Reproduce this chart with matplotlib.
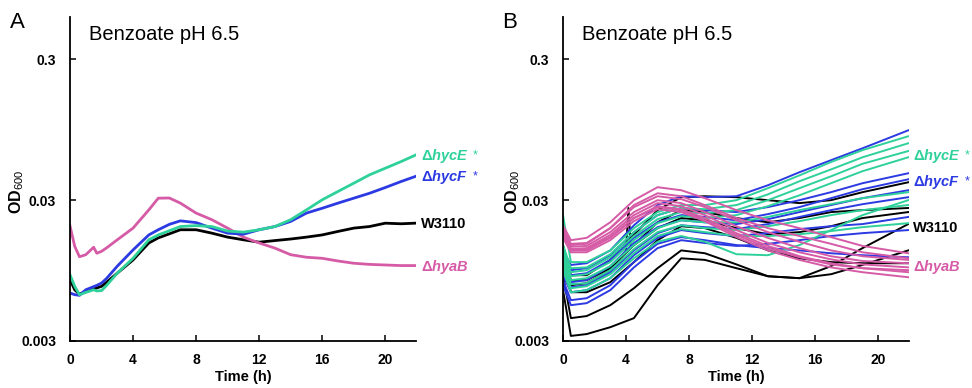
import matplotlib
matplotlib.use('Agg')
import matplotlib.pyplot as plt

plt.rcParams['font.family'] = ['Liberation Sans', 'DejaVu Sans']
plt.rcParams['mathtext.fontset'] = 'custom'
plt.rcParams['mathtext.rm'] = 'Liberation Sans'
plt.rcParams['mathtext.bf'] = 'Liberation Sans:bold'
plt.rcParams['mathtext.it'] = 'Liberation Sans:italic:bold'

GREEN = '#2fd19a'
BLUE = '#2c3ae2'
PINK = '#d65ba6'
BLACK = '#000000'

# ---- panel A: mean curves (OD600 vs time, h)
t_a = [0, 0.3, 0.6, 1.0, 1.5, 1.7, 2, 2.3, 3, 4, 5, 5.6, 6.3, 7, 8, 9, 10, 11,
       12, 13, 14, 15, 16, 17, 18, 19, 20, 21, 21.9]
a_hyaB = [0.0197, 0.0141, 0.0119, 0.0123, 0.0139, 0.0126, 0.0130, 0.0137, 0.0157,
          0.0190, 0.0256, 0.0310, 0.0311, 0.0286, 0.0243, 0.0218, 0.0190, 0.0164,
          0.0149, 0.0137, 0.0123, 0.0118, 0.0116, 0.0111, 0.0107, 0.0105, 0.0104,
          0.0103, 0.0103]
a_hycF = [0.00657, 0.00640, 0.00633, 0.00693, 0.00730, 0.00745, 0.00774, 0.00830,
          0.0102, 0.0133, 0.0170, 0.0185, 0.0202, 0.0214, 0.0208, 0.0190, 0.0175,
          0.0172, 0.0185, 0.0195, 0.0212, 0.0243, 0.0263, 0.0286, 0.0310, 0.0336,
          0.0369, 0.0407, 0.0442]
a_hycE = [0.00886, 0.00733, 0.00639, 0.00664, 0.00693, 0.00680, 0.00684, 0.00740,
          0.00910, 0.0116, 0.0157, 0.0170, 0.0182, 0.0195, 0.0198, 0.0195, 0.0181,
          0.0178, 0.0185, 0.0195, 0.0218, 0.0256, 0.0302, 0.0346, 0.0396, 0.0454,
          0.0506, 0.0564, 0.0626]
a_w3110 = [0.00817, 0.00693, 0.00645, 0.00675, 0.00700, 0.00715, 0.00733, 0.00780,
           0.00910, 0.0113, 0.0149, 0.0162, 0.0173, 0.0185, 0.0185, 0.0175, 0.0164,
           0.0157, 0.0151, 0.0155, 0.0159, 0.0164, 0.0170, 0.0180, 0.0190, 0.0195,
           0.0206, 0.0204, 0.0206]

# ---- panel B: individual replicates
t_b = [0, 0.5, 1.5, 3, 4.5, 6, 7.5, 9, 11, 13, 15, 17, 19, 21.9]
b_hyaB = [
    [0.0199, 0.0156, 0.0162, 0.0209, 0.0300, 0.0371, 0.0353, 0.0310, 0.0255, 0.0216, 0.0190, 0.0164, 0.0142, 0.0126],
    [0.0184, 0.0144, 0.0147, 0.0190, 0.0277, 0.0336, 0.0320, 0.0277, 0.0224, 0.0190, 0.0167, 0.0147, 0.0128, 0.0116],
    [0.0190, 0.0147, 0.0149, 0.0190, 0.0268, 0.0320, 0.0305, 0.0268, 0.0216, 0.0178, 0.0152, 0.0132, 0.0120, 0.0113],
    [0.0178, 0.0140, 0.0142, 0.0178, 0.0247, 0.0300, 0.0286, 0.0247, 0.0196, 0.0162, 0.0137, 0.0120, 0.0111, 0.0107],
    [0.0172, 0.0135, 0.0137, 0.0170, 0.0235, 0.0286, 0.0272, 0.0235, 0.0184, 0.0149, 0.0128, 0.0114, 0.0105, 0.0100],
    [0.0170, 0.0132, 0.0135, 0.0164, 0.0224, 0.0268, 0.0255, 0.0216, 0.0170, 0.0137, 0.0118, 0.0105, 0.00987, 0.00955],
    [0.0167, 0.0132, 0.0132, 0.0162, 0.0224, 0.0272, 0.0259, 0.0224, 0.0175, 0.0142, 0.0120, 0.0107, 0.00987, 0.00924],
    [0.0162, 0.0128, 0.0128, 0.0156, 0.0213, 0.0259, 0.0247, 0.0213, 0.0164, 0.0132, 0.0113, 0.0100, 0.00924, 0.00851],
]
b_hycF = [
    [0.0132, 0.0104, 0.0107, 0.0132, 0.0199, 0.0277, 0.0320, 0.0315, 0.0320, 0.0383, 0.0474, 0.0577, 0.0701, 0.0940],
    [0.0122, 0.00955, 0.00987, 0.0122, 0.0178, 0.0235, 0.0264, 0.0255, 0.0247, 0.0268, 0.0300, 0.0342, 0.0396, 0.0466],
    [0.0113, 0.00880, 0.00909, 0.0113, 0.0162, 0.0209, 0.0235, 0.0228, 0.0216, 0.0239, 0.0268, 0.0310, 0.0359, 0.0422],
    [0.0104, 0.00785, 0.00811, 0.0102, 0.0149, 0.0193, 0.0216, 0.0209, 0.0203, 0.0220, 0.0247, 0.0277, 0.0310, 0.0353],
    [0.00955, 0.00723, 0.00747, 0.00924, 0.0132, 0.0175, 0.0199, 0.0193, 0.0187, 0.0203, 0.0228, 0.0255, 0.0281, 0.0315],
    [0.00880, 0.00666, 0.00689, 0.00838, 0.0122, 0.0162, 0.0184, 0.0175, 0.0167, 0.0175, 0.0187, 0.0196, 0.0203, 0.0228],
    [0.00811, 0.00585, 0.00604, 0.00747, 0.0109, 0.0147, 0.0164, 0.0156, 0.0144, 0.0137, 0.0132, 0.0126, 0.0122, 0.0118],
    [0.00747, 0.00539, 0.00557, 0.00689, 0.0100, 0.0137, 0.0156, 0.0149, 0.0142, 0.0147, 0.0156, 0.0167, 0.0175, 0.0184],
]
b_hycE = [
    [0.0235, 0.0109, 0.0109, 0.0132, 0.0190, 0.0247, 0.0277, 0.0277, 0.0300, 0.0365, 0.0450, 0.0560, 0.0680, 0.0853],
    [0.0144, 0.00987, 0.0100, 0.0124, 0.0178, 0.0235, 0.0264, 0.0259, 0.0277, 0.0330, 0.0409, 0.0496, 0.0605, 0.0761],
    [0.0132, 0.00924, 0.00955, 0.0118, 0.0167, 0.0220, 0.0247, 0.0242, 0.0255, 0.0300, 0.0365, 0.0443, 0.0544, 0.0670],
    [0.0122, 0.00865, 0.00894, 0.0109, 0.0156, 0.0206, 0.0231, 0.0224, 0.0235, 0.0272, 0.0325, 0.0396, 0.0482, 0.0605],
    [0.0116, 0.00811, 0.00838, 0.0102, 0.0144, 0.0190, 0.0216, 0.0209, 0.0209, 0.0228, 0.0255, 0.0281, 0.0310, 0.0342],
    [0.0109, 0.00760, 0.00772, 0.00955, 0.0135, 0.0178, 0.0199, 0.0190, 0.0184, 0.0196, 0.0213, 0.0235, 0.0255, 0.0277],
    [0.0102, 0.00711, 0.00735, 0.00894, 0.0126, 0.0167, 0.0187, 0.0178, 0.0167, 0.0167, 0.0172, 0.0181, 0.0193, 0.0206],
    [0.00955, 0.00666, 0.00689, 0.00838, 0.0116, 0.0152, 0.0167, 0.0152, 0.0124, 0.0122, 0.0144, 0.0184, 0.0235, 0.0300],
]
b_w3110 = [
    [0.0144, 0.00880, 0.00880, 0.0113, 0.0170, 0.0255, 0.0315, 0.0320, 0.0315, 0.0300, 0.0286, 0.0300, 0.0342, 0.0402],
    [0.0132, 0.00811, 0.00811, 0.00987, 0.0144, 0.0209, 0.0255, 0.0247, 0.0224, 0.0209, 0.0224, 0.0247, 0.0255, 0.0264],
    [0.0122, 0.00666, 0.00666, 0.00785, 0.0109, 0.0156, 0.0196, 0.0190, 0.0162, 0.0132, 0.0116, 0.0109, 0.0107, 0.0107],
    [0.00880, 0.00436, 0.00451, 0.00539, 0.00711, 0.00987, 0.0132, 0.0126, 0.0105, 0.00865, 0.00838, 0.0102, 0.0137, 0.0203],
    [0.00689, 0.00326, 0.00336, 0.00376, 0.00436, 0.00747, 0.0116, 0.0113, 0.00987, 0.00865, 0.00838, 0.00894, 0.0104, 0.0132],
]
# one W3110 replicate with a reading spike near 4 h
t_spike = [0, 0.5, 1.5, 3, 4.0, 4.15, 4.3, 4.5, 6, 7.5, 9, 11, 13, 15, 17, 19, 21.9]
b_w3110_spike = [0.0122, 0.00747, 0.00772, 0.00955, 0.0132, 0.0264, 0.0140, 0.0144, 0.0190,
                 0.0224, 0.0216, 0.0190, 0.0172, 0.0178, 0.0196, 0.0224, 0.0247]

strain_labels = [r'$\mathbf{\Delta}\mathit{hycE}$', r'$\mathbf{\Delta}\mathit{hycF}$',
                 'W3110', r'$\mathbf{\Delta}\mathit{hyaB}$']
strain_colors = [GREEN, BLUE, BLACK, PINK]
yticks = [0.003, 0.03, 0.3]
ytick_labels = ['0.003', '0.03', '0.3']
xticks = [0, 4, 8, 12, 16, 20]

W, H = 972, 388
fig = plt.figure(figsize=(W / 100, H / 100), dpi=100)


def px(x, y):
    return x / W, 1 - y / H


def style_axes(ax):
    ax.set_yscale('log')
    ax.set_xlim(0, 21.95)
    ax.set_ylim(0.003, 0.6)
    ax.spines['top'].set_visible(False)
    ax.spines['right'].set_visible(False)
    for s in ['left', 'bottom']:
        ax.spines[s].set_linewidth(1.3)
    ax.set_yticks(yticks)
    ax.set_yticklabels(ytick_labels)
    ax.yaxis.set_minor_locator(matplotlib.ticker.NullLocator())
    ax.set_xticks(xticks)
    ax.tick_params(direction='in', length=4, width=1.1, labelsize=10)
    ax.tick_params(axis='y', pad=10)
    ax.tick_params(axis='x', pad=9)
    for lab in ax.get_xticklabels() + ax.get_yticklabels():
        lab.set_fontweight('bold')
    ax.set_xlabel('Time (h)', fontsize=10.5, fontweight='bold', labelpad=2)


axA = fig.add_axes([70 / W, 1 - 341 / H, 346 / W, 324 / H])
axB = fig.add_axes([563 / W, 1 - 341 / H, 346 / W, 324 / H])

lw_a = 2.0
axA.plot(t_a, a_w3110, color=BLACK, lw=lw_a)
axA.plot(t_a, a_hyaB, color=PINK, lw=lw_a)
axA.plot(t_a, a_hycF, color=BLUE, lw=lw_a)
axA.plot(t_a, a_hycE, color=GREEN, lw=lw_a)

lw_b = 1.4
for c in b_w3110:
    axB.plot(t_b, c, color=BLACK, lw=lw_b)
axB.plot(t_spike, b_w3110_spike, color=BLACK, lw=lw_b)
for c in b_hycF:
    axB.plot(t_b, c, color=BLUE, lw=lw_b)
for c in b_hycE:
    axB.plot(t_b, c, color=GREEN, lw=lw_b)
for c in b_hyaB:
    axB.plot(t_b, c, color=PINK, lw=lw_b)

style_axes(axA)
style_axes(axB)

# panel letters, titles, y labels
fig.text(*px(10, 22), 'A', fontsize=16, va='center', ha='left')
fig.text(*px(502, 22), 'B', fontsize=16, va='center', ha='left')
fig.text(*px(89, 34), 'Benzoate pH 6.5', fontsize=14.5, va='center', ha='left')
fig.text(*px(582, 34), 'Benzoate pH 6.5', fontsize=14.5, va='center', ha='left')
for x0 in (17, 513):
    fig.text(*px(x0, 192), r'$\mathbf{OD}_{\mathrm{600}}$', fontsize=11.5,
             rotation=90, va='center', ha='center')

# strain labels on the right of each panel
lab_y_a = [156, 177, 224, 267]
lab_y_b = [156, 182, 228, 267]
for x0, ys, xstar in ((421, lab_y_a, 475), (913, lab_y_b, 967)):
    for lab, col, y in zip(strain_labels, strain_colors, ys):
        fig.text(*px(x0, y), lab, color=col, fontsize=10.5, fontweight='bold',
                 va='center', ha='left')
    for col, y in zip(strain_colors[:2], ys[:2]):
        fig.text(*px(xstar, y - 1), '*', color=col, fontsize=9, va='center', ha='center')

fig.savefig('out.png', dpi=100)
